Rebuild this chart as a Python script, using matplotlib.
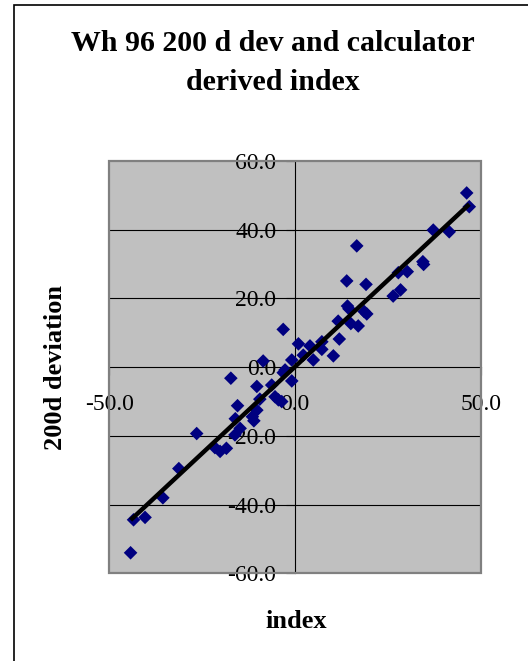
"""
Scatter of 200 day deviation against calculator derived index (Wh 96)
"""

import numpy as np
import matplotlib
matplotlib.use("Agg")
import matplotlib.pyplot as plt
from matplotlib.patches import Rectangle

# data
index_vals = [46.2, 46.9, 37.2, 41.5, 16.6, 13.9, 19.1, 27.8, 30.2, 34.4,
              34.6, 26.4, 28.4, 14.1, 14.5, 18.6, 19.3, 15.0, 17.0, 11.6,
              11.9, 10.3, 7.2, 7.2, 4.0, 4.9, 0.9, 2.2, -0.9, -3.2,
              -2.7, -3.2, -0.9, -8.6, -17.3, -10.3, -6.3, -5.4, -4.5, -3.6,
              -9.5, -15.5, -10.3, -11.5, -11.1, -16.1, -14.8, -16.2, -26.5, -21.6,
              -20.2, -18.5, -31.3, -35.6, -43.5, -40.4, -44.3]
dev_vals = [50.7, 46.7, 39.9, 39.4, 35.3, 25.1, 24.1, 27.5, 27.8, 30.7,
            29.9, 20.7, 22.5, 17.8, 17.0, 16.2, 15.5, 12.7, 12.0, 13.4,
            8.2, 3.3, 7.4, 5.2, 6.2, 2.1, 6.8, 3.5, 2.1, 11.0,
            -0.8, -1.6, -4.0, 1.8, -3.2, -5.6, -5.2, -8.6, -9.5, -10.0,
            -9.3, -11.2, -12.5, -14.4, -15.6, -15.0, -17.8, -19.7, -19.3, -23.4,
            -24.5, -23.6, -29.5, -38.0, -44.4, -43.7, -54.0]

x_ticks = [-50, 0, 50]
y_ticks = [-60, -40, -20, 0, 20, 40, 60]

W, H = 528, 661
serif = ["Liberation Serif", "DejaVu Serif"]
plt.rcParams["font.family"] = serif

fig = plt.figure(figsize=(W / 100, H / 100), dpi=100)

# chart area border (right and bottom edges fall outside the picture)
fig.patches.append(Rectangle((14 / W, -1.0), 2.0, 2.0 - 5 / H, transform=fig.transFigure,
                             fill=False, ec="black", lw=1.2, clip_on=False))

ax = fig.add_axes([109.4 / W, 87.6 / H, 371.4 / W, 412.4 / H])
ax.set_facecolor("#C0C0C0")
ax.set_xlim(-50, 50)
ax.set_ylim(-60, 60)

for y in y_ticks:
    if y not in (0, -60, 60):
        ax.axhline(y, color="black", lw=0.8, zorder=1)

# axes crossing at zero
ax.spines["left"].set_position(("data", 0))
ax.spines["bottom"].set_position(("data", 0))
ax.spines["top"].set_visible(False)
ax.spines["right"].set_visible(False)
for s in ("left", "bottom"):
    ax.spines[s].set_linewidth(0.8)
    ax.spines[s].set_zorder(1.5)
ax.add_patch(Rectangle((0, 0), 1, 1, transform=ax.transAxes, fill=False,
                       ec="#808080", lw=1.6, zorder=1.6, clip_on=False))

ax.set_xticks(x_ticks)
ax.set_xticklabels(["{:.1f}".format(v) for v in x_ticks])
ax.set_yticks(y_ticks)
ax.set_yticklabels(["{:.1f}".format(v) for v in y_ticks])
ax.tick_params(axis="x", direction="out", length=6, width=0.8, pad=13, labelsize=17)
ax.tick_params(axis="y", direction="out", length=6.5, width=0.8, pad=7, labelsize=17)

ax.scatter(index_vals, dev_vals, marker="D", s=48, color="#000080",
           edgecolors="none", zorder=3)

# linear trend line
slope, icpt = np.polyfit(index_vals, dev_vals, 1)
xl = np.array([min(index_vals), max(index_vals)])
ax.plot(xl, slope * xl + icpt, color="black", lw=3.2, zorder=4, solid_capstyle="butt")

fig.text(272.5 / W, 1 - 63 / H, "Wh 96 200 d dev and calculator\nderived index",
         ha="center", va="center", fontsize=21.5, fontweight="bold", linespacing=1.55)
fig.text(55.5 / W, 1 - 368 / H, "200d deviation", rotation=90, ha="center", va="center",
         fontsize=19, fontweight="bold")
fig.text(296 / W, 1 - 622 / H, "index", ha="center", va="center",
         fontsize=19, fontweight="bold")

plt.savefig("out.png", dpi=100)
